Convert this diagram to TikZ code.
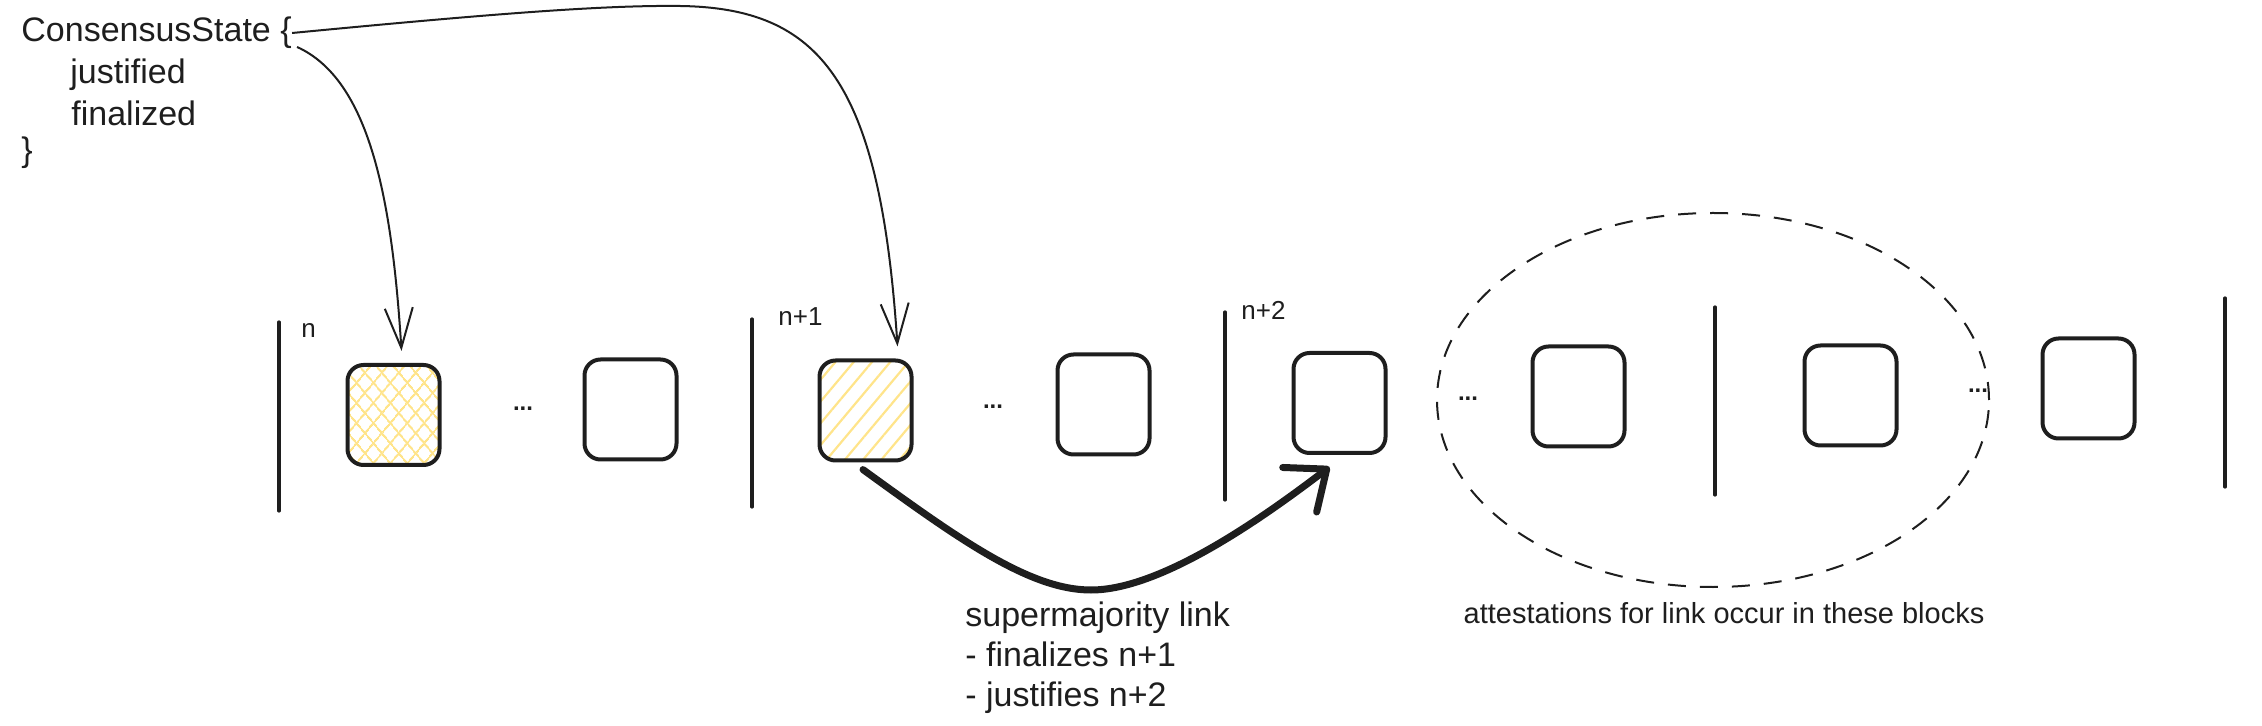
\documentclass[tikz,border=0pt]{standalone}
\usepackage{fontspec}
\setmainfont{Liberation Sans}
\usetikzlibrary{arrows.meta,patterns.meta,shapes.geometric}
\definecolor{ink}{HTML}{1E1E1E}
\definecolor{hatch}{HTML}{FFE48A}
\begin{document}
\begin{tikzpicture}[x=0.5pt,y=-0.5pt,
  blk/.style={draw=ink, line width=2pt, rounded corners=8pt, minimum width=46pt, minimum height=50pt, inner sep=0pt},
  hatchone/.style={pattern={Lines[angle=50,distance=7pt,line width=1.1pt]}, pattern color=hatch},
  hatchtwo/.style={preaction={pattern={Lines[angle=50,distance=6.5pt,line width=1.1pt]}, pattern color=hatch},
                   pattern={Lines[angle=-50,distance=6.5pt,line width=1.1pt]}, pattern color=hatch},
  sepline/.style={draw=ink, line width=1.6pt, line cap=round},
  lbl/.style={font=\fontsize{17}{20}\selectfont, text=ink, inner sep=0pt},
  smalllbl/.style={font=\fontsize{13}{15}\selectfont, text=ink, inner sep=0pt},
  dotlbl/.style={font=\bfseries\fontsize{12}{14}\selectfont, text=ink, inner sep=0pt, anchor=base},
  attlbl/.style={font=\fontsize{14.5}{17}\selectfont, text=ink, inner sep=0pt},
  thinarrow/.style={draw=ink, line width=1pt, -{Straight Barb[length=20pt,width=14pt]}},
  bigarrow/.style={draw=ink, line width=3.5pt, line cap=round, -{Straight Barb[length=17pt,width=28pt,line cap=round,line join=round]}},
  attell/.style={ellipse, draw=ink, line width=1pt, dash pattern=on 9pt off 7pt, minimum width=276pt, minimum height=187pt, inner sep=0pt}
]
\useasboundingbox (0,0) rectangle (2262,726);

% text block
\node[lbl, anchor=west] (cs) at (21,33) {ConsensusState \{};
\node[lbl, anchor=west] (just) at (70,75) {justified};
\node[lbl, anchor=west] (fin) at (71,113) {finalized};
\node[lbl, anchor=west] (cb) at (21,153) {\}};

% separators
\draw[sepline] (279,322) -- (279,511);
\draw[sepline] (752,319) -- (752,507);
\draw[sepline] (1225,312) -- (1225,500);
\draw[sepline] (1715,307) -- (1715,495);
\draw[sepline] (2225,298) -- (2225,487);

% epoch labels
\node[smalllbl, anchor=west] (ln) at (301,331) {n};
\node[smalllbl, anchor=west] (ln1) at (778,317) {n+1};
\node[smalllbl, anchor=west] (ln2) at (1241,310) {n+2};

% blocks
\node[blk, hatchtwo] (b1) at (393.5,415) {};
\node[blk] (b2) at (630.5,409.5) {};
\node[blk, hatchone] (b3) at (865.5,410.5) {};
\node[blk] (b4) at (1103.5,404.5) {};
\node[blk] (b5) at (1339.5,403) {};
\node[blk] (b6) at (1578.5,396.5) {};
\node[blk] (b7) at (1850.5,395.5) {};
\node[blk] (b8) at (2088.5,388.5) {};

% dots
\node[dotlbl] (d1) at (523,411) {...};
\node[dotlbl] (d2) at (993,409) {...};
\node[dotlbl] (d3) at (1468,401) {...};
\node[dotlbl] (d4) at (1978,393) {...};

% attestation ellipse
\node[attell] (att) at (1713,400) {};
\node[attlbl] (atx) at (1724,613) {attestations for link occur in these blocks};

% supermajority text
\node[lbl, anchor=west, align=left] (sm) at (965,658) {supermajority link\\- finalizes n+1\\- justifies n+2};

% arrows from ConsensusState
\draw[thinarrow] ([shift={(5,14)}]cs.east) .. controls (370,80) and (392,200) .. ([shift={(8,-13)}]b1.north);
\draw[thinarrow] (cs.east) .. controls (480,15) and (600,5) .. (680,6) .. controls (820,8) and (880,80) .. ([shift={(32,-13)}]b3.north);

% supermajority link
\draw[bigarrow] ([shift={(-2.5,8)}]b3.south) .. controls (960,540) and (1030,590) .. (1091,590) .. controls (1160,590) and (1260,520) .. ([shift={(-10,12)}]b5.south);
\end{tikzpicture}
\end{document}
